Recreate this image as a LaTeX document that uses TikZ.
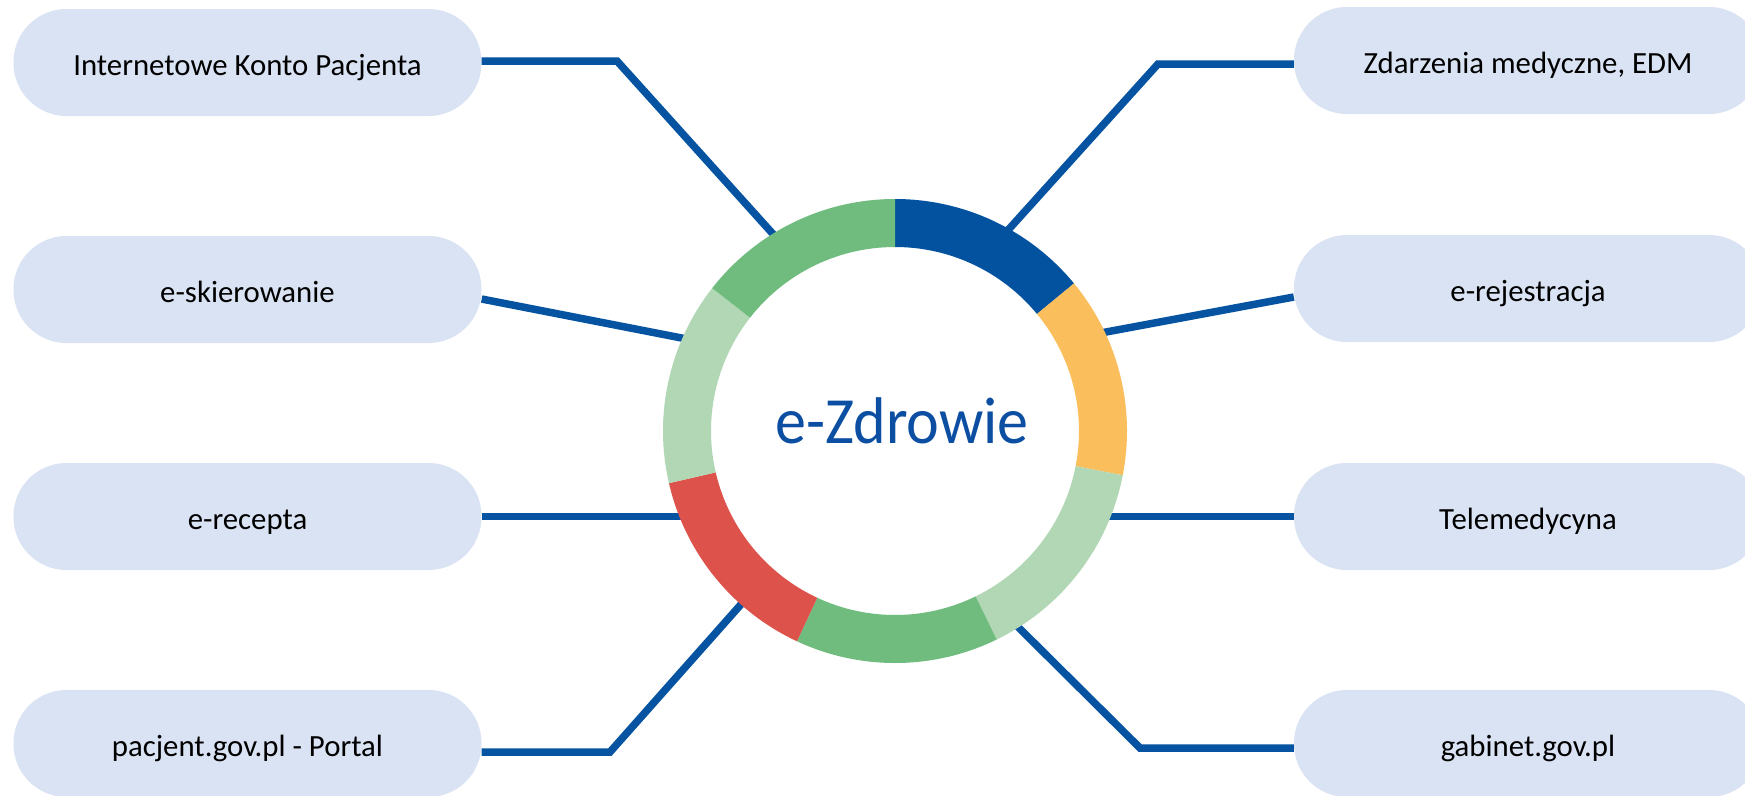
\documentclass[tikz,border=0pt]{standalone}
\usepackage{fontspec}
\setmainfont{Carlito}
\usetikzlibrary{calc}
\definecolor{linkblue}{HTML}{0553A1}
\definecolor{boxfill}{HTML}{DAE3F3}
\definecolor{ringblue}{HTML}{0252A0}
\definecolor{ringyellow}{HTML}{FABF5C}
\definecolor{ringlgreen}{HTML}{B2D7B5}
\definecolor{ringgreen}{HTML}{70BC7F}
\definecolor{ringred}{HTML}{DD534C}
\definecolor{titleblue}{HTML}{0B4EA2}
\begin{document}
\begin{tikzpicture}[x=1pt,y=1pt,
  pill/.style={fill=boxfill, rounded corners=53pt, minimum width=468pt,
    minimum height=107pt, inner sep=0pt, text height=25pt, text depth=0pt,
    font=\fontsize{30.8}{36}\selectfont, text=black},
  link/.style={draw=linkblue, line width=7.5pt},
  titletext/.style={font=\fontsize{66}{72}\selectfont, text=titleblue, anchor=base}
  ]
\clip (0,0) rectangle (1745,-795);
\fill[white] (0,0) rectangle (1745,-795);

% boxes
\node[pill] (ikp) at (247.5,-62.5) {Internetowe Konto Pacjenta};
\node[pill] (esk) at (247.5,-289.5) {e-skierowanie};
\node[pill] (erc) at (247.5,-516.5) {e-recepta};
\node[pill] (pac) at (247.5,-743.5) {pacjent.gov.pl - Portal};
\node[pill] (zdm) at (1528,-60.5) {Zdarzenia medyczne, EDM};
\node[pill] (erj) at (1528,-288.5) {e-rejestracja};
\node[pill] (tel) at (1528,-516.5) {Telemedycyna};
\node[pill] (gab) at (1528,-743.5) {gabinet.gov.pl};

% centre and connector points
\coordinate (C) at (895,-431);
\coordinate (k1) at (617,-61);   \coordinate (e1) at (782,-244);
\coordinate (e2) at (697,-341);
\coordinate (e3) at (700,-516.5);
\coordinate (k4) at (610,-752);  \coordinate (e4) at (752,-592);
\coordinate (k5) at (1158,-64);  \coordinate (e5) at (1000,-239);
\coordinate (e6) at (1090,-335);
\coordinate (e7) at (1090,-516.5);
\coordinate (k8) at (1140,-748); \coordinate (e8) at (1008,-617);

% connectors
\draw[link] ($(ikp.east)+(0,1.5)$) -- (k1) -- (e1);
\draw[link] ($(esk.east)+(0,-9.5)$) -- (e2);
\draw[link] (erc.east) -- (e3);
\draw[link] ($(pac.east)+(0,-8.5)$) -- (k4) -- (e4);
\draw[link] ($(zdm.west)+(0,-3.5)$) -- (k5) -- (e5);
\draw[link] ($(erj.west)+(0,-8.5)$) -- (e6);
\draw[link] (tel.west) -- (e7);
\draw[link] ($(gab.west)+(0,-4.5)$) -- (k8) -- (e8);

% ring
\begin{scope}[shift={(C)}]
\foreach \sa/\sb/\col in {39.5/90/ringblue, -11/39.5/ringyellow, -64/-11/ringlgreen,
    245/296/ringgreen, 193/245/ringred, 142/193/ringlgreen, 90/142/ringgreen}
  \fill[\col] (\sa:232pt) arc[start angle=\sa, end angle=\sb, radius=232pt]
     -- (\sb:184pt) arc[start angle=\sb, end angle=\sa, radius=184pt] -- cycle;
\end{scope}

\node[titletext] (title) at (902,-443) {\scalebox{0.94}[1]{e-Zdrowie}};
\end{tikzpicture}
\end{document}
